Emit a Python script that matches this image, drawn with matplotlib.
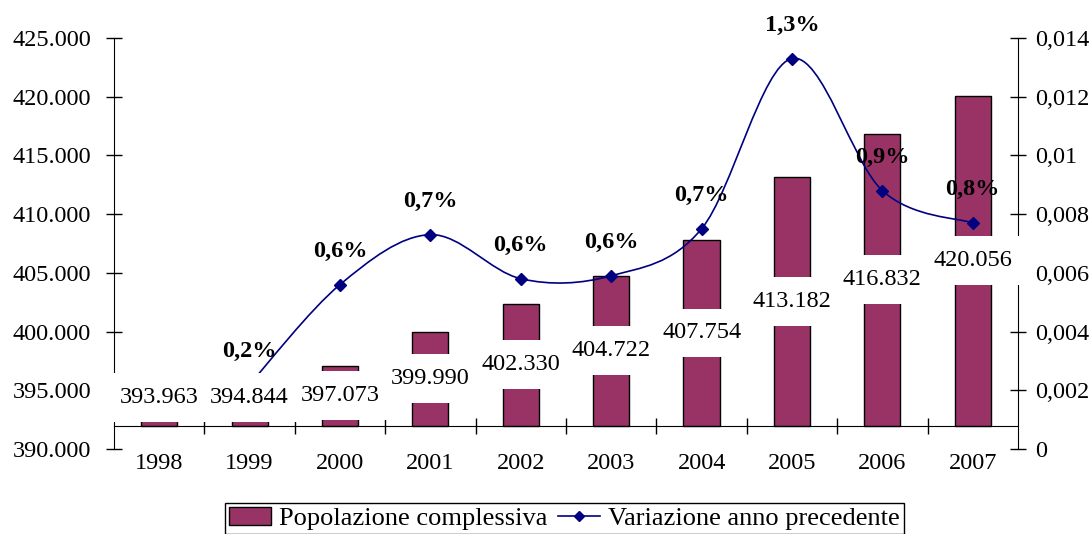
import numpy as np
import matplotlib.pyplot as plt
from matplotlib.path import Path
from matplotlib.patches import PathPatch, Patch, Rectangle
from matplotlib.lines import Line2D

# data
anni = ['1998', '1999', '2000', '2001', '2002', '2003', '2004', '2005', '2006', '2007']
popolazione = [393963, 394844, 397073, 399990, 402330, 404722, 407754, 413182, 416832, 420056]
pop_labels = ['393.963', '394.844', '397.073', '399.990', '402.330',
              '404.722', '407.754', '413.182', '416.832', '420.056']
# variazione rispetto all'anno precedente (no value for 1998)
var_anni = ['1999', '2000', '2001', '2002', '2003', '2004', '2005', '2006', '2007']
variazione = [0.0022, 0.0056, 0.0073, 0.0058, 0.0059, 0.0075, 0.0133, 0.0088, 0.0077]
var_labels = ['0,2%', '0,6%', '0,7%', '0,6%', '0,6%', '0,7%', '1,3%', '0,9%', '0,8%']

left_ticks = [390000, 395000, 400000, 405000, 410000, 415000, 420000, 425000]
left_ticklabels = ['390.000', '395.000', '400.000', '405.000', '410.000', '415.000', '420.000', '425.000']
right_ticks = [0, 0.002, 0.004, 0.006, 0.008, 0.01, 0.012, 0.014]
right_ticklabels = ['0', '0,002', '0,004', '0,006', '0,008', '0,01', '0,012', '0,014']

FONT = 'Liberation Serif'
FS = 17.5
BAR_COL = '#993366'
LINE_COL = '#000080'
BASE = 392000  # where the category axis crosses

plt.rcParams['font.family'] = FONT

fig = plt.figure(figsize=(10.92, 5.34), dpi=100)
ax = fig.add_axes([0.1044, 0.1592, 0.8278, 0.7697])
ax2 = ax.twinx()

x = np.arange(len(anni))
ax.bar(x, np.array(popolazione) - BASE, bottom=BASE, width=0.4,
       color=BAR_COL, edgecolor='black', linewidth=1.0, zorder=2)
ax.set_xlim(-0.5, len(anni) - 0.5)
ax.set_ylim(390000, 425000)
ax.set_yticks(left_ticks)
ax.set_yticklabels(left_ticklabels, fontsize=FS)
ax.tick_params(axis='y', direction='inout', length=11, width=1, pad=11)

# category axis sits at BASE, tick marks between categories
ax.spines['bottom'].set_position(('data', BASE))
ax.spines['top'].set_visible(False)
ax.spines['right'].set_visible(False)
ax.set_xticks(np.arange(0.5, len(anni) - 1, 1.0))
ax.set_xticklabels([])
ax.tick_params(axis='x', which='major', direction='inout', length=11, width=1)
ax.set_xticks(x, minor=True)
ax.set_xticklabels(anni, minor=True, fontsize=FS)
ax.tick_params(axis='x', which='minor', length=0, pad=20)

# secondary axis
ax2.set_ylim(0, 0.014)
ax2.set_yticks(right_ticks)
ax2.set_yticklabels(right_ticklabels, fontsize=FS)
ax2.tick_params(axis='y', direction='inout', length=11, width=1, pad=7)
for s in ['top', 'left', 'bottom']:
    ax2.spines[s].set_visible(False)

# smoothed line (catmull-rom style bezier like excel)
vx = np.array([anni.index(a) for a in var_anni], dtype=float)
vy = np.array(variazione)
pts = np.column_stack([vx, vy])
ext = np.vstack([pts[0], pts, pts[-1]])
verts = [tuple(pts[0])]
codes = [Path.MOVETO]
for i in range(1, len(ext) - 2):
    p0, p1, p2, p3 = ext[i - 1], ext[i], ext[i + 1], ext[i + 2]
    c1 = p1 + (p2 - p0) / 6
    c2 = p2 - (p3 - p1) / 6
    verts += [tuple(c1), tuple(c2), tuple(p2)]
    codes += [Path.CURVE4] * 3
ax2.add_patch(PathPatch(Path(verts, codes), fill=False, edgecolor=LINE_COL,
                        linewidth=1.2, zorder=3))
ax2.plot(vx, vy, linestyle='none', marker='D', markersize=6,
         color=LINE_COL, zorder=4)

for xi, yi, lab in zip(vx, vy, var_labels):
    ax2.annotate(lab, (xi, yi), xytext=(0, 24), textcoords='offset points',
                 ha='center', va='center', fontsize=FS, fontweight='bold', zorder=7)

# bar value labels in white boxes: boxes first, text on top of all boxes
box_w, box_h = 1.24, 4170
for xi, v, lab in zip(x, popolazione, pop_labels):
    ymid = max((v + BASE) / 2, 394350)
    ax2.add_patch(Rectangle((xi - box_w / 2, ymid - box_h / 2), box_w, box_h,
                            transform=ax.transData, facecolor='white',
                            edgecolor='none', zorder=5, clip_on=False))
    ax2.text(xi, ymid, lab, transform=ax.transData,
             ha='center', va='center', fontsize=FS, zorder=6)

handles = [Patch(facecolor=BAR_COL, edgecolor='black', linewidth=1.0),
           Line2D([], [], color=LINE_COL, marker='D', markersize=5, linewidth=1.2)]
fig.legend(handles, ['Popolazione complessiva', 'Variazione anno precedente'],
           loc='upper center', bbox_to_anchor=(0.517, 0.058), borderaxespad=0,
           ncol=2, fontsize=19, frameon=True, fancybox=False, edgecolor='black',
           framealpha=1, handlelength=1.6, handletextpad=0.3, columnspacing=0.4,
           borderpad=0.15)

fig.savefig('out.png', dpi=100)
